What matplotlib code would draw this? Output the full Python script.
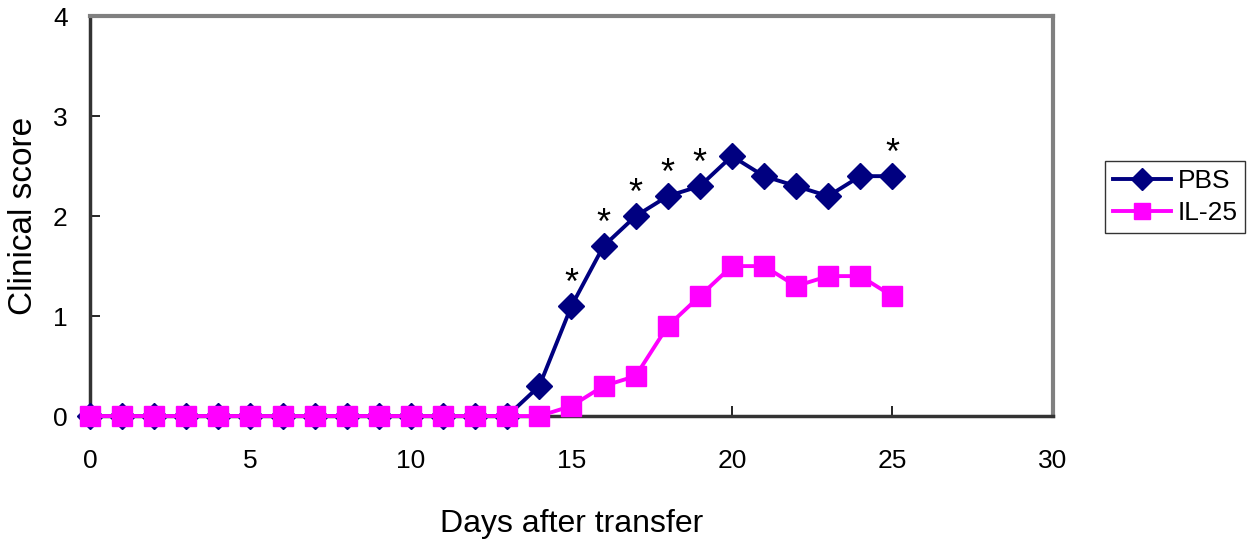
import matplotlib.pyplot as plt

plt.rcParams['font.family'] = ['Liberation Sans', 'DejaVu Sans']

# Data
days = list(range(0, 26))
pbs = [0] * 14 + [0.3, 1.1, 1.7, 2.0, 2.2, 2.3, 2.6, 2.4, 2.3, 2.2, 2.4, 2.4]
il25 = [0] * 15 + [0.1, 0.3, 0.4, 0.9, 1.2, 1.5, 1.5, 1.3, 1.4, 1.4, 1.2]
star_days = [15, 16, 17, 18, 19, 25]

fig = plt.figure(figsize=(12.53, 5.41), dpi=100)
ax = fig.add_axes([0.0718, 0.231, 0.7685, 0.739])

ax.plot(days, pbs, color='#000080', marker='D', markersize=13, linewidth=2.8,
        label='PBS', clip_on=False, zorder=3)
ax.plot(days, il25, color='#FF00FF', marker='s', markersize=14, linewidth=2.8,
        label='IL-25', clip_on=False, zorder=4)

# significance stars
for d in star_days:
    ax.text(d, pbs[d] + 0.12, '*', ha='center', va='baseline', fontsize=26)

ax.set_xlim(0, 30)
ax.set_ylim(0, 4)
ax.set_xticks(range(0, 31, 5))
ax.set_yticks(range(0, 5))
ax.tick_params(axis='both', direction='in', labelsize=19, length=7, width=1.2)
ax.tick_params(axis='x', pad=24)
ax.tick_params(axis='y', pad=16)

for s in ['top', 'right']:
    ax.spines[s].set_color('#808080')
    ax.spines[s].set_linewidth(3)
for s in ['left', 'bottom']:
    ax.spines[s].set_color('#333333')
    ax.spines[s].set_linewidth(2.5)

ax.set_xlabel('Days after transfer', fontsize=23, labelpad=26)
ax.set_ylabel('Clinical score', fontsize=24, labelpad=10)

leg = ax.legend(loc='center left', bbox_to_anchor=(1.054, 0.548), fontsize=19,
                frameon=True, fancybox=False, edgecolor='black',
                handlelength=2.2, borderpad=0.3, labelspacing=0.3,
                handletextpad=0.25, borderaxespad=0, markerscale=0.85)
leg.get_frame().set_linewidth(1)

plt.savefig('out.png', dpi=100)
